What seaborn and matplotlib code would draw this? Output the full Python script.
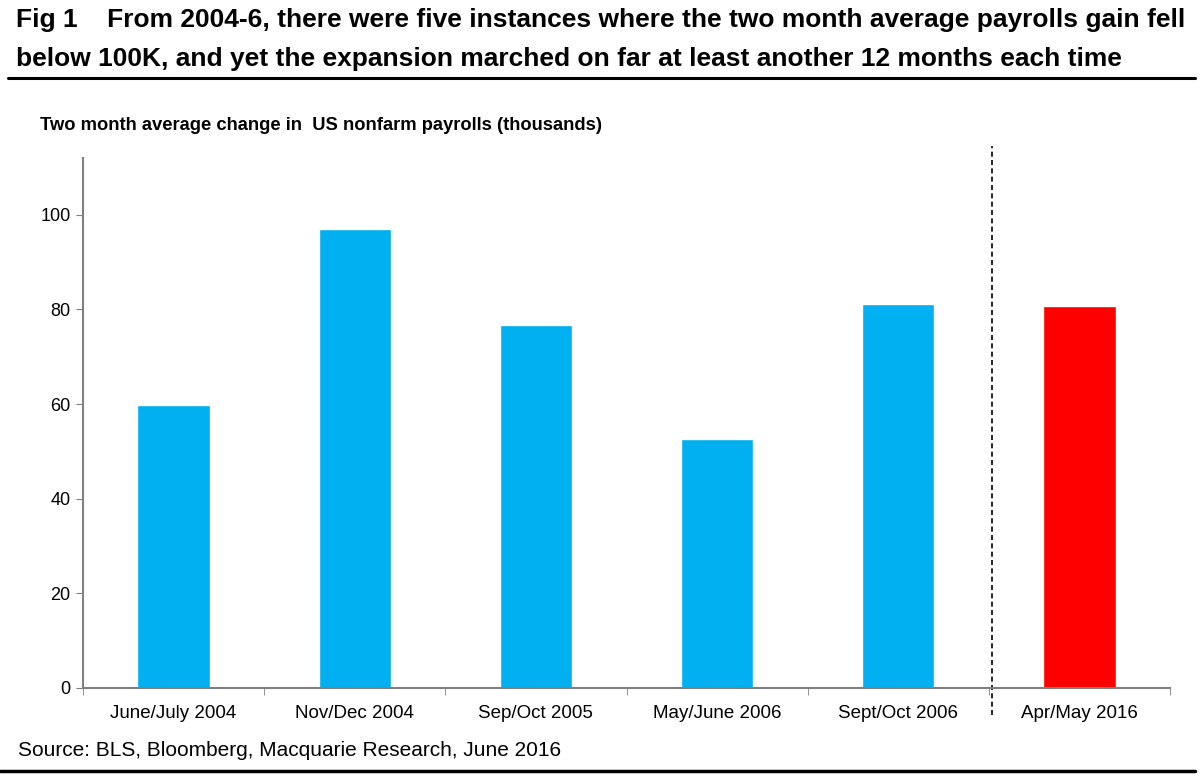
import numpy as np
import pandas as pd
import matplotlib
matplotlib.use("Agg")
import matplotlib.pyplot as plt
import seaborn as sns

# Dane
periods = ["June/July 2004", "Nov/Dec 2004", "Sep/Oct 2005",
           "May/June 2006", "Sept/Oct 2006", "Apr/May 2016"]
payrolls = [59.8, 97.0, 76.7, 52.6, 81.2, 80.8]
bar_colors = ["#00B0F0", "#00B0F0", "#00B0F0", "#00B0F0", "#00B0F0", "#FF0000"]
y_ticks = [0, 20, 40, 60, 80, 100]

title = ("Fig 1    From 2004-6, there were five instances where the two month average payrolls gain fell\n"
         "below 100K, and yet the expansion marched on far at least another 12 months each time")
ylabel = "Two month average change in  US nonfarm payrolls (thousands)"
source = "Source: BLS, Bloomberg, Macquarie Research, June 2016"

sns.set_style("white")
plt.rcParams["font.family"] = ["Liberation Sans", "DejaVu Sans"]
plt.rcParams["text.color"] = "black"

df = pd.DataFrame({"period": periods, "value": payrolls})

fig = plt.figure(figsize=(12.01, 7.8), dpi=100)
ax = fig.add_axes([83 / 1201, 1 - 688 / 780, (1170 - 83) / 1201, (688 - 158) / 780])

sns.barplot(data=df, x="period", y="value", hue="period", palette=bar_colors,
            legend=False, width=0.4, ax=ax, saturation=1)

ax.set_xlim(-0.5, len(periods) - 0.5)
ax.set_ylim(0, 112)
ax.set_yticks(y_ticks)
ax.set_xlabel("")
ax.set_ylabel("")
ax.tick_params(axis="y", labelsize=13, length=5, color="#808080", direction="out", left=True,
               pad=4, labelcolor="black")
ax.tick_params(axis="x", labelsize=13.5, length=0, pad=12, labelcolor="black")
# znaczniki na granicach kategorii
ax.set_xticks(np.arange(-0.5, len(periods) + 0.5), minor=True)
ax.tick_params(axis="x", which="minor", length=5, color="#808080", bottom=True)
for side in ["top", "right"]:
    ax.spines[side].set_visible(False)
for side in ["left", "bottom"]:
    ax.spines[side].set_color("#808080")
    ax.spines[side].set_linewidth(1.5)

# linia przerywana oddzielająca 2016
ax.plot([4.52, 4.52], [-5.6, 114.5], ls=(0, (3, 2)), color="black", lw=1.2, clip_on=False)

fig.text(0.013, 0.99, title, fontsize=19, fontweight="bold", va="top", ha="left", color="black",
         family=["Liberation Sans Narrow", "Liberation Sans", "DejaVu Sans"], linespacing=1.8)
fig.add_artist(plt.Line2D([8 / 1201, 1195 / 1201], [1 - 78 / 780] * 2, color="black", lw=2.2))
fig.text(40 / 1201, 1 - 125 / 780, ylabel, fontsize=13.2, fontweight="bold", va="center",
         ha="left", color="black")
fig.text(18 / 1201, 1 - 750 / 780, source, fontsize=15, va="center", ha="left", color="black")
fig.add_artist(plt.Line2D([0, 1195 / 1201], [1 - 771 / 780] * 2, color="black", lw=2.5))

fig.savefig("out.png", dpi=100)
